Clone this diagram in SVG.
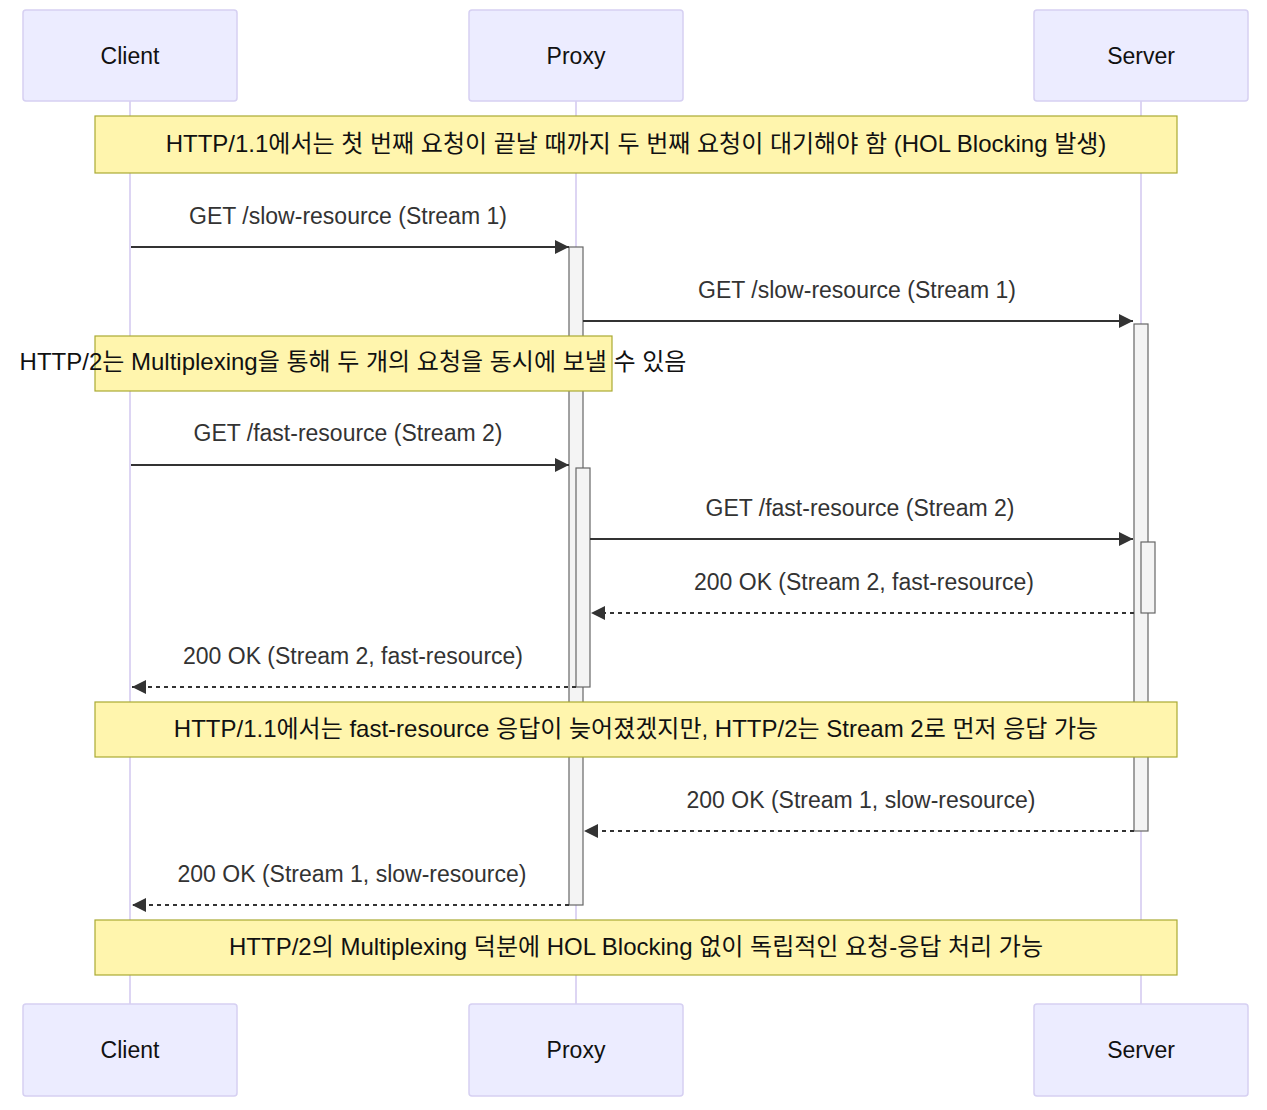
<svg xmlns="http://www.w3.org/2000/svg" width="1267" height="1110" viewBox="0 0 1267 1110">
<style>
text{font-family:"Liberation Sans","Noto Sans CJK KR",sans-serif;font-size:23px;text-anchor:middle}
.actor{fill:#ECECFF;stroke:#D6D0F2;stroke-width:1.5}
.life{stroke:#DDD5F3;stroke-width:2}
.note{fill:#FFF5AD;stroke:#AAAA33;stroke-width:1.2}
.act{fill:#F4F4F4;stroke:#666;stroke-width:1.2}
.msg{stroke:#333;stroke-width:2;fill:none}
.dash{stroke-dasharray:4,4}
.lbl{fill:#333}
.nt{fill:#111;font-size:24px}
.at{fill:#111}
</style>
<defs>
<marker id="arrow" viewBox="0 0 14 14" refX="14" refY="7" markerWidth="14" markerHeight="14" markerUnits="userSpaceOnUse" orient="auto">
<path d="M0,0 L14,7 L0,14 z" fill="#333"/>
</marker>
</defs>
<g id="lifelines">
<line class="life" x1="130" y1="101" x2="130" y2="1004"/>
<line class="life" x1="576" y1="101" x2="576" y2="1004"/>
<line class="life" x1="1141" y1="101" x2="1141" y2="1004"/>
</g>
<g id="actor-client-top"><rect class="actor" x="23" y="10" width="214" height="91" rx="3"/><text class="at" x="130" y="64">Client</text></g>
<g id="actor-proxy-top"><rect class="actor" x="469" y="10" width="214" height="91" rx="3"/><text class="at" x="576" y="64">Proxy</text></g>
<g id="actor-server-top"><rect class="actor" x="1034" y="10" width="214" height="91" rx="3"/><text class="at" x="1141" y="64">Server</text></g>
<g id="actor-client-bottom"><rect class="actor" x="23" y="1004" width="214" height="92" rx="3"/><text class="at" x="130" y="1058">Client</text></g>
<g id="actor-proxy-bottom"><rect class="actor" x="469" y="1004" width="214" height="92" rx="3"/><text class="at" x="576" y="1058">Proxy</text></g>
<g id="actor-server-bottom"><rect class="actor" x="1034" y="1004" width="214" height="92" rx="3"/><text class="at" x="1141" y="1058">Server</text></g>
<g id="activations">
<rect class="act" x="569" y="247" width="14" height="658"/>
<rect class="act" x="1134" y="324" width="14" height="507"/>
<rect class="act" x="576" y="468" width="14" height="219"/>
<rect class="act" x="1141" y="542" width="14" height="71"/>
</g>
<g id="note1"><rect class="note" x="95" y="116" width="1082" height="57"/><text class="nt" x="636" y="152">HTTP/1.1에서는 첫 번째 요청이 끝날 때까지 두 번째 요청이 대기해야 함 (HOL Blocking 발생)</text></g>
<g id="note2"><rect class="note" x="95" y="336" width="517" height="55"/><text class="nt" x="353" y="370">HTTP/2는 Multiplexing을 통해 두 개의 요청을 동시에 보낼 수 있음</text></g>
<g id="note3"><rect class="note" x="95" y="702" width="1082" height="55"/><text class="nt" x="636" y="737">HTTP/1.1에서는 fast-resource 응답이 늦어졌겠지만, HTTP/2는 Stream 2로 먼저 응답 가능</text></g>
<g id="note4"><rect class="note" x="95" y="920" width="1082" height="55"/><text class="nt" x="636" y="955">HTTP/2의 Multiplexing 덕분에 HOL Blocking 없이 독립적인 요청-응답 처리 가능</text></g>
<g id="connectors">
<line class="msg" x1="131" y1="247" x2="569" y2="247" marker-end="url(#arrow)"/>
<text class="lbl" x="348" y="224">GET /slow-resource (Stream 1)</text>
<line class="msg" x1="583" y1="321" x2="1133" y2="321" marker-end="url(#arrow)"/>
<text class="lbl" x="857" y="298">GET /slow-resource (Stream 1)</text>
<line class="msg" x1="131" y1="465" x2="569" y2="465" marker-end="url(#arrow)"/>
<text class="lbl" x="348" y="441">GET /fast-resource (Stream 2)</text>
<line class="msg" x1="590" y1="539" x2="1133" y2="539" marker-end="url(#arrow)"/>
<text class="lbl" x="860" y="516">GET /fast-resource (Stream 2)</text>
<line class="msg dash" x1="1134" y1="613" x2="591" y2="613" marker-end="url(#arrow)"/>
<text class="lbl" x="864" y="590">200 OK (Stream 2, fast-resource)</text>
<line class="msg dash" x1="576" y1="687" x2="132" y2="687" marker-end="url(#arrow)"/>
<text class="lbl" x="353" y="664">200 OK (Stream 2, fast-resource)</text>
<line class="msg dash" x1="1134" y1="831" x2="584" y2="831" marker-end="url(#arrow)"/>
<text class="lbl" x="861" y="808">200 OK (Stream 1, slow-resource)</text>
<line class="msg dash" x1="569" y1="905" x2="132" y2="905" marker-end="url(#arrow)"/>
<text class="lbl" x="352" y="882">200 OK (Stream 1, slow-resource)</text>
</g>
</svg>
